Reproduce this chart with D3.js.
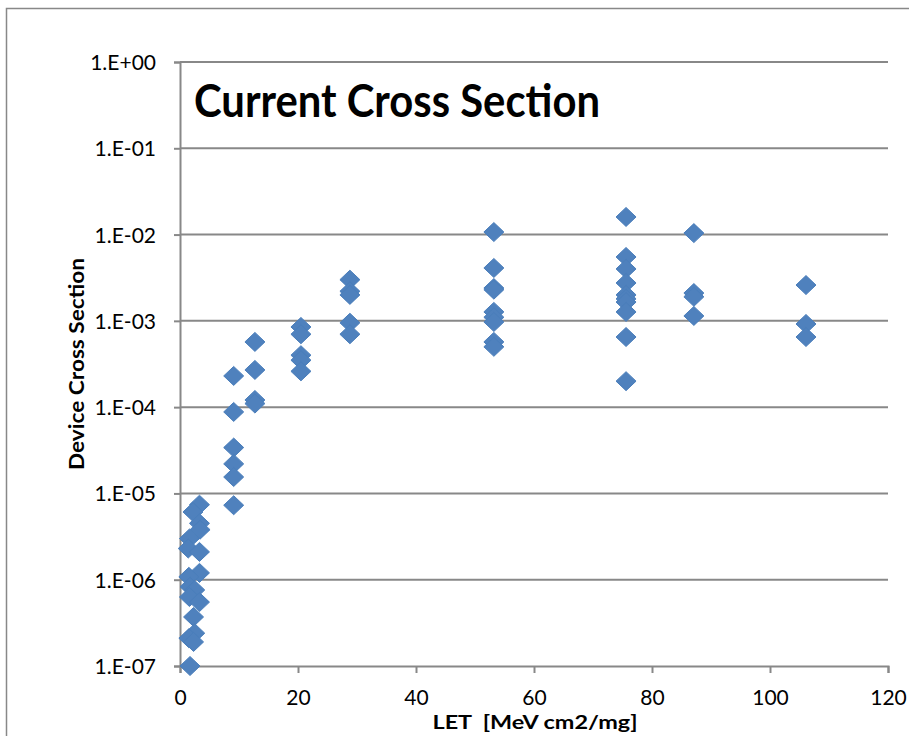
<!DOCTYPE html>
<html>
<head>
<meta charset="utf-8">
<script src="https://cdn.jsdelivr.net/npm/d3@7"></script>
<style>
  body { margin: 0; background: #fff; }
  svg { display: block; }
</style>
</head>
<body>
<div id="chart-area"></div>
<script>
const letValues = [
  3.3, 2.2, 3.3, 3.4, 1.6, 1.4, 3.3, 3.3, 1.5, 1.7, 2.5, 1.6, 3.3, 2.3, 2.5, 1.5, 2.3, 1.7,
  9.1, 9.1, 9.1, 9.1, 9.1, 9.1,
  12.7, 12.7, 12.7, 12.7,
  20.5, 20.5, 20.5, 20.5, 20.5,
  28.8, 28.8, 28.8, 28.8, 28.8,
  53.2, 53.2, 53.2, 53.2, 53.2, 53.2, 53.2, 53.2, 53.2,
  75.6, 75.6, 75.6, 75.6, 75.6, 75.6, 75.6, 75.6, 75.6, 75.6,
  87.1, 87.1, 87.1, 87.1,
  106.1, 106.1, 106.1
]
const crossSections = [
  7.4e-6, 6.1e-6, 4.5e-6, 3.8e-6, 3.0e-6, 2.3e-6, 2.1e-6, 1.2e-6, 1.08e-6, 8.3e-7, 7.6e-7, 6.3e-7, 5.5e-7, 3.7e-7, 2.4e-7, 2.1e-7, 1.9e-7, 1.0e-7,
  2.3e-4, 8.8e-5, 3.4e-5, 2.2e-5, 1.55e-5, 7.3e-6,
  5.7e-4, 2.7e-4, 1.21e-4, 1.1e-4,
  8.5e-4, 7.0e-4, 4.0e-4, 3.5e-4, 2.6e-4,
  3.0e-3, 2.2e-3, 2.0e-3, 9.5e-4, 7.0e-4,
  1.07e-2, 4.1e-3, 2.4e-3, 2.3e-3, 1.27e-3, 1.1e-3, 9.7e-4, 5.7e-4, 5.0e-4,
  1.6e-2, 5.5e-3, 4.0e-3, 2.75e-3, 2.0e-3, 1.8e-3, 1.65e-3, 1.27e-3, 6.5e-4, 2.0e-4,
  1.04e-2, 2.1e-3, 1.9e-3, 1.14e-3,
  2.6e-3, 9.2e-4, 6.5e-4
]
const xTicks = [0, 20, 40, 60, 80, 100, 120]
const yTicks = [1e-7, 1e-6, 1e-5, 1e-4, 1e-3, 1e-2, 1e-1, 1]
const yTickLabels = ["1.E-07", "1.E-06", "1.E-05", "1.E-04", "1.E-03", "1.E-02", "1.E-01", "1.E+00"]

const data = letValues.map((x, i) => ({ x: x, y: crossSections[i] }))

// CHART AREA
const W = 909, H = 736
const margin = { left: 180, right: 21, top: 62, bottom: 70 }
const width = W - margin.left - margin.right
const height = H - margin.top - margin.bottom
const font = "Lato, 'Open Sans', sans-serif"

const svg = d3.select("#chart-area").append("svg")
  .attr("width", W)
  .attr("height", H)

// outer chart frame (clipped by the window on right and bottom)
svg.append("path")
  .attr("d", "M6.5," + H + " V8.5 H" + W)
  .attr("fill", "none")
  .attr("stroke", "#888")
  .attr("stroke-width", 1.5)

const chart = svg.append("g")
  .attr("transform", "translate(" + margin.left + "," + margin.top + ")")

const xScale = d3.scaleLinear().domain([0, 120]).range([0, width])
const yScale = d3.scaleLog().domain([1e-7, 1]).range([height, 0])

// gridlines
chart.append("g").selectAll("line")
  .data(yTicks.slice(1))
  .enter().append("line")
    .attr("x1", 0).attr("x2", width)
    .attr("y1", d => yScale(d)).attr("y2", d => yScale(d))
    .attr("stroke", "#888").attr("stroke-width", 2)

// axes
const xAxisCall = d3.axisBottom(xScale).tickValues(xTicks).tickSize(7).tickPadding(18)
const xAxis = chart.append("g")
  .attr("transform", "translate(0," + height + ")")
  .call(xAxisCall)

const yAxisCall = d3.axisLeft(yScale).tickValues(yTicks)
  .tickFormat((d, i) => yTickLabels[i]).tickSize(6).tickPadding(18)
const yAxis = chart.append("g").call(yAxisCall)

;[xAxis, yAxis].forEach(ax => {
  ax.attr("font-family", font).attr("font-size", 21)
  ax.select(".domain").attr("stroke", "#888").attr("stroke-width", 2)
  ax.selectAll(".tick line").attr("stroke", "#888").attr("stroke-width", 2)
  ax.selectAll(".tick text").attr("fill", "#000")
})
yAxis.selectAll(".tick text").attr("dy", "0.36em")
xAxis.selectAll(".tick text").attr("dy", "0.66em")

// points (diamonds)
chart.append("g").selectAll("path")
  .data(data)
  .enter().append("path")
    .attr("transform", d => "translate(" + xScale(d.x) + "," + yScale(d.y) + ")")
    .attr("d", "M0,-9.5 L10,0 L0,9.5 L-10,0 Z")
    .attr("fill", "#4F81BD")
    .attr("stroke", "#4A7EBB")
    .attr("stroke-width", 1)

// TITLE AND LABELS
svg.append("text")
  .attr("x", 194).attr("y", 117)
  .attr("font-family", font)
  .attr("font-weight", "bold")
  .attr("font-size", 45)
  .attr("textLength", 406)
  .attr("lengthAdjust", "spacingAndGlyphs")
  .text("Current Cross Section")

svg.append("text")
  .attr("x", 535).attr("y", 729)
  .attr("text-anchor", "middle")
  .attr("font-family", font)
  .attr("font-weight", "bold")
  .attr("font-size", 19)
  .attr("textLength", 205)
  .attr("lengthAdjust", "spacingAndGlyphs")
  .style("white-space", "pre")
  .text("LET  [MeV cm2/mg]")

svg.append("text")
  .attr("transform", "translate(84," + 364 + ") rotate(-90)")
  .attr("text-anchor", "middle")
  .attr("font-family", font)
  .attr("font-weight", "bold")
  .attr("font-size", 21)
  .attr("textLength", 212)
  .attr("lengthAdjust", "spacingAndGlyphs")
  .text("Device Cross Section")
</script>
</body>
</html>
